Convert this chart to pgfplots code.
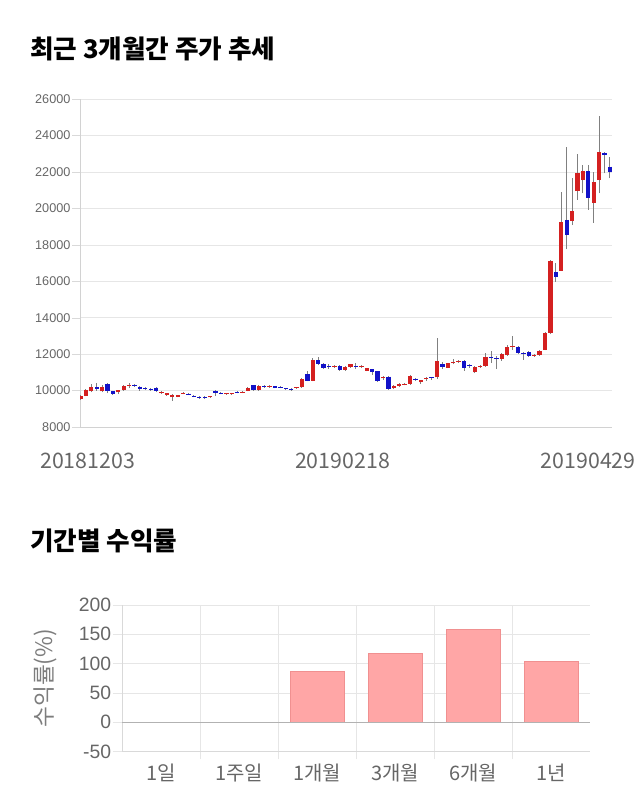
\documentclass[border=0pt]{standalone}
\usepackage{fontspec}
\setmainfont{Liberation Sans}
\newfontfamily\kr{Noto Sans CJK KR}
\usepackage{pgfplots}
\pgfplotsset{compat=1.18}
\usepackage{pgfplotstable}
\definecolor{upred}{HTML}{D42020}
\definecolor{dnblue}{HTML}{1212C8}
\definecolor{tickgray}{HTML}{666666}
\definecolor{gridgray}{HTML}{E6E6E6}
\definecolor{barfill}{HTML}{FFA6A6}
\definecolor{barline}{HTML}{F09090}
\definecolor{wick}{HTML}{808080}

\pgfplotstableread{
x o h l c
0 9550 9760 9500 9700
1 9720 10100 9680 10050
2 9950 10350 9900 10200
4 9960 10300 9900 10200
7 9900 10050 9800 10030
8 10030 10300 10000 10250
9 10270 10420 10150 10330
15 9860 9960 9820 9940
16 9770 9880 9720 9850
17 9640 9800 9450 9750
18 9650 9780 9620 9760
19 9820 9920 9790 9860
24 9640 9720 9610 9700
27 9800 9870 9760 9860
28 9800 9870 9780 9850
30 9880 9960 9850 9940
31 9980 10200 9950 10160
33 10030 10280 9980 10240
35 10200 10280 10150 10240
40 10150 10220 10100 10190
41 10180 10700 10150 10650
43 10550 11800 10500 11680
47 11300 11380 11250 11350
49 11130 11330 11100 11310
50 11280 11480 11250 11440
52 11280 11400 11230 11350
53 11100 11260 11050 11240
56 10670 10800 10600 10760
58 10120 10300 10060 10270
59 10270 10400 10200 10340
60 10320 10420 10280 10370
61 10360 10850 10330 10820
63 10450 10600 10380 10580
64 10630 10760 10540 10710
66 10720 12880 10650 11630
68 11260 11520 11230 11490
69 11500 11730 11430 11590
70 11580 11700 11500 11640
73 11000 11330 10950 11300
74 11300 11420 11260 11370
75 11370 12050 11300 11820
78 11720 12040 11640 11990
79 11950 12500 11900 12370
80 12390 13000 12250 12430
84 11930 12000 11850 11970
85 11950 12250 11920 12190
86 12230 13200 12200 13140
87 13180 17150 13100 17110
89 16580 20900 16550 19270
91 19320 21650 19080 19850
92 20950 22960 20460 21920
93 21550 22380 20820 22050
95 20310 22000 19210 21460
96 21550 25070 20820 23070
}\up

\pgfplotstableread{
x o h l c
3 10180 10420 10000 10060
5 10350 10400 9850 9950
6 9950 10000 9760 9830
10 10300 10380 10200 10260
11 10200 10260 10000 10110
12 10120 10180 10050 10070
13 10090 10150 10000 10040
14 10160 10180 9920 9950
20 9830 9880 9780 9790
21 9720 9750 9620 9640
22 9660 9690 9560 9600
23 9640 9680 9540 9580
25 9950 10020 9700 9870
26 9870 9920 9800 9830
29 9910 9950 9840 9860
32 10300 10330 10000 10030
34 10230 10300 10150 10190
36 10230 10260 10120 10160
37 10180 10240 10120 10140
38 10120 10160 10040 10070
39 10100 10130 10000 10040
42 10900 11050 10500 10550
44 11650 11820 11400 11450
45 11450 11500 11200 11260
46 11330 11480 11200 11300
48 11350 11400 11100 11130
51 11370 11520 11170 11330
54 11160 11200 10880 11040
55 11070 11100 10480 10500
57 10760 10780 10050 10085
62 10650 10700 10520 10580
65 10730 10760 10600 10670
67 11430 11550 11200 11270
71 11620 11660 11100 11230
72 11400 11450 11250 11350
76 11860 12150 11520 11770
77 11760 11900 11170 11710
81 12400 12450 12000 12040
82 12060 12120 11700 12020
83 12100 12150 11850 11920
88 16490 16980 15980 16250
90 19360 23350 17750 18540
94 22050 22380 19910 20590
97 23020 23110 21920 22950
98 22290 22840 21650 22010
}\down

\begin{document}
\begin{tikzpicture}
\useasboundingbox (0,0) rectangle (480pt,607.5pt);
\node[anchor=west, inner sep=0pt] at (22.5pt,570.75pt) {\kr\bfseries\fontsize{19.2}{22}\selectfont 최근 3개월간 주가 추세};
\node[anchor=west, inner sep=0pt] at (22.5pt,201.75pt) {\kr\bfseries\fontsize{19.2}{22}\selectfont 기간별 수익률};

\begin{axis}[at={(60pt,287.25pt)}, anchor=south west, scale only axis,
  width=399pt, height=246pt,
  xmin=-0.1, xmax=98.4, ymin=8000, ymax=26000,
  ytick={8000,10000,...,26000},
  xtick={1.3,48.5,94.0}, xticklabels={20181203,20190218,20190429},
  axis lines*=left, axis line style={draw=gray!35},
  ymajorgrids, grid style={gridgray},
  tick align=outside, major tick length=6pt,
  y tick style={draw=gray!30}, x tick style={draw=none},
  yticklabel style={font=\fontsize{9.5}{11}\selectfont, text=tickgray, inner sep=1pt},
  xticklabel style={font=\kr\fontsize{16}{19}\selectfont, text=tickgray, yshift=-10pt},
  scaled y ticks=false,
  /pgf/number format/.cd, 1000 sep={}, assume math mode=true]
\addplot[draw=wick, line width=0.75pt, quiver={u=0, v=\thisrow{h}-\thisrow{l}}] table[x=x, y=l] {\up};
\addplot[draw=wick, line width=0.75pt, quiver={u=0, v=\thisrow{h}-\thisrow{l}}] table[x=x, y=l] {\down};
\addplot[draw=upred, line width=3.2pt, quiver={u=0, v=\thisrow{c}-\thisrow{o}}] table[x=x, y=o] {\up};
\addplot[draw=dnblue, line width=3.2pt, quiver={u=0, v=\thisrow{c}-\thisrow{o}}] table[x=x, y=o] {\down};
\end{axis}

\begin{axis}[at={(91.5pt,43.9pt)}, anchor=south west, scale only axis,
  width=351pt, height=109.9pt,
  xmin=-0.5, xmax=5.5, ymin=-50, ymax=200,
  ytick={-50,0,...,200},
  xtick={0,...,5}, xticklabels={1일,1주일,1개월,3개월,6개월,1년},
  minor xtick={0.5,1.5,2.5,3.5,4.5},
  axis lines*=left, axis line style={draw=gray!30},
  ymajorgrids, xminorgrids, grid style={gridgray}, minor grid style={gridgray},
  tick align=outside, major tick length=7pt, minor tick length=6pt,
  major x tick style={draw=none}, minor x tick style={draw=gridgray}, y tick style={draw=gridgray},
  every axis y label/.style={at={([xshift=-57.75pt]rel axis cs:0,0.5)}, anchor=center, rotate=90, font=\kr\fontsize{17}{20}\selectfont, text=tickgray!85},
  ylabel={수익률(\%)},
  yticklabel style={font=\fontsize{14.5}{17}\selectfont, text=tickgray, inner sep=1pt},
  xticklabel style={font=\kr\fontsize{15}{18}\selectfont, text=tickgray, yshift=1.5pt},
  /pgf/number format/.cd, assume math mode=true]
\addplot[ybar, bar width=40.5pt, fill=barfill, draw=barline] coordinates {(0,0) (1,0) (2,87) (3,117.5) (4,158) (5,103.5)};
\draw[gray!60] (axis cs:-0.5,0) -- (axis cs:5.5,0);
\end{axis}
\end{tikzpicture}
\end{document}
